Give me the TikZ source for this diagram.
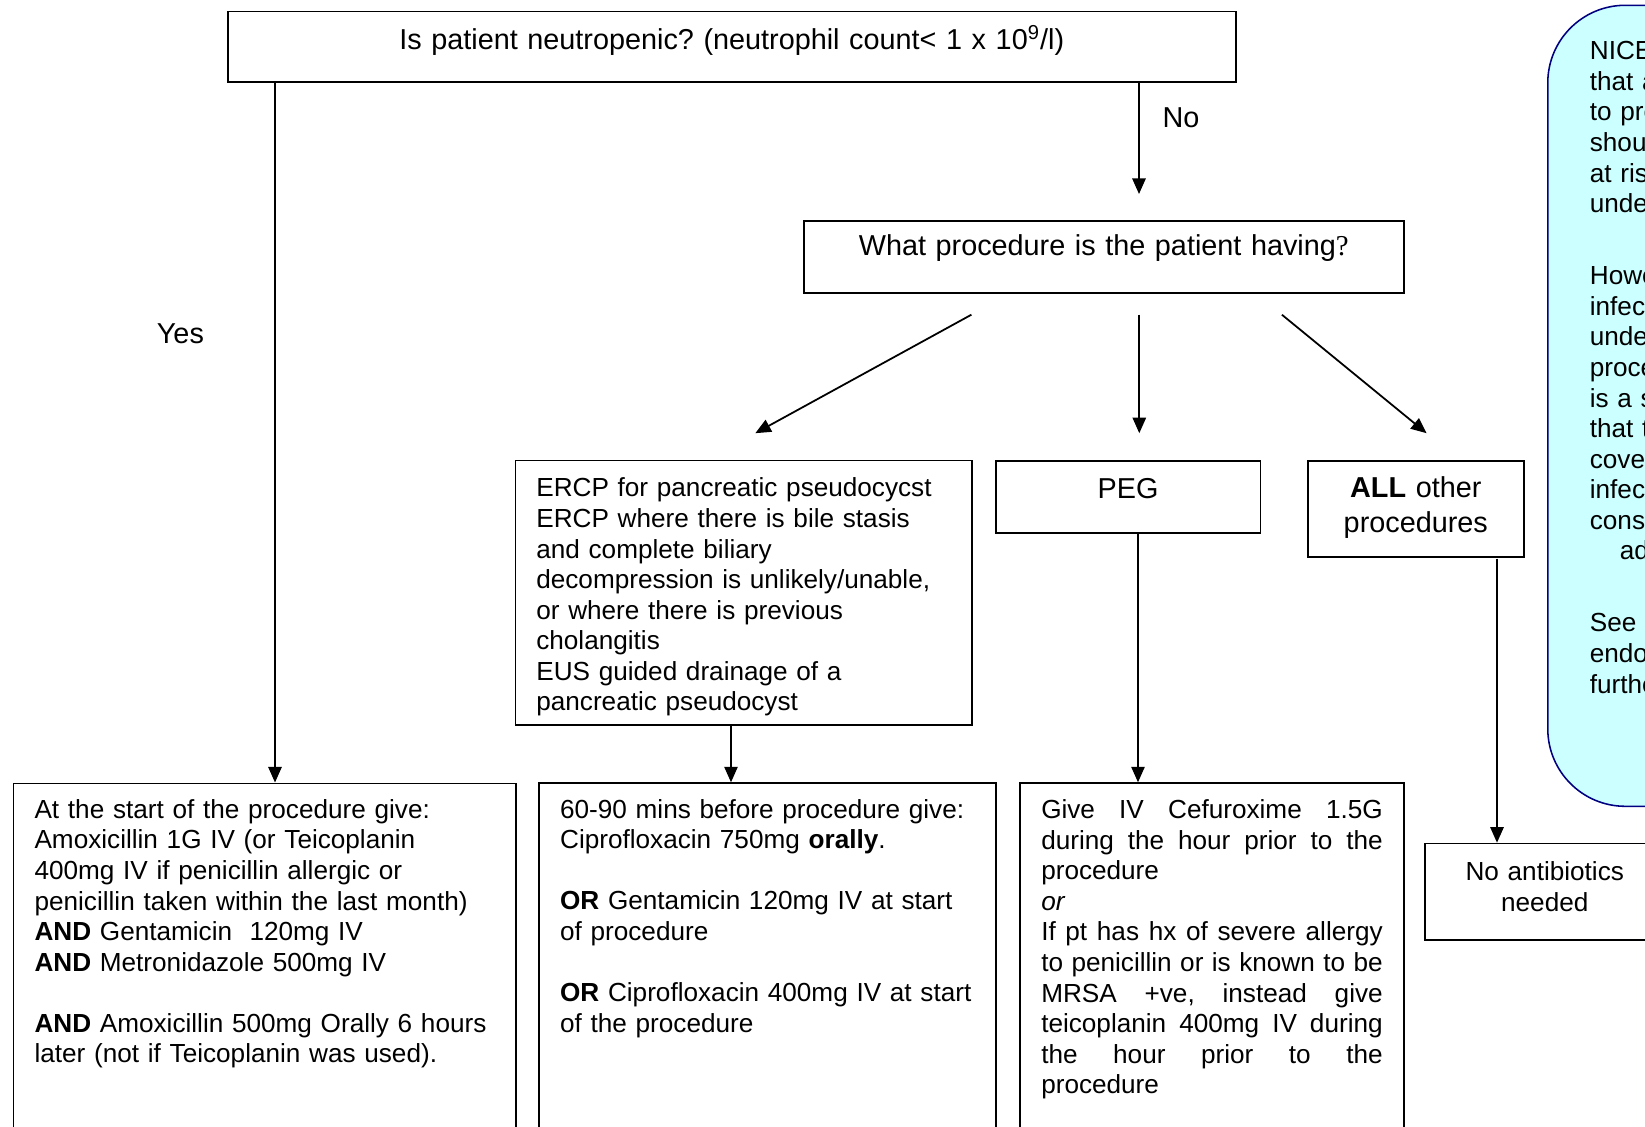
\documentclass[tikz,border=0pt]{standalone}
\usepackage{fontspec}
\setmainfont{Liberation Sans}
\newfontfamily\serifq{Liberation Serif}
\usetikzlibrary{arrows.meta}
\definecolor{NoteFill}{RGB}{204,255,255}
\definecolor{NoteLine}{RGB}{0,0,128}
\newcommand{\JustLine}[1]{\leavevmode\hbox to 154.1pt{#1}}
\frenchspacing

\begin{document}
\begin{tikzpicture}[x=0.4513pt,y=-0.4513pt]
	\tikzstyle{Body} = [font=\fontsize{11.8}{13.8}\selectfont]
	\tikzstyle{Big} = [font=\fontsize{13}{15.8}\selectfont]
	\tikzstyle{Box} = [draw, line width=0.7pt, anchor=north west, inner xsep=0pt, inner ysep=0pt]
	\tikzstyle{Arrow} = [-{Triangle[length=7pt,width=6pt]}, line width=0.8pt]
	\useasboundingbox (0,0) rectangle (1645,1127);

	\node[Box, Big, text width=454.9pt, align=center, text height=17.1pt, text depth=14.7pt] (neut) at (227,10.5)
		{Is patient neutropenic? (neutrophil count< 1 x 10\textsuperscript{9}/l)};
	\node[Box, Big, text width=270.8pt, align=center, text height=15.5pt, text depth=17pt] (proc) at (803,220)
		{What procedure is the patient having{\serifq ?}};
	\node[Box, Body, inner xsep=9.5pt, text width=187pt, align=left, text height=16.5pt, text depth=102.9pt] (ercp) at (514.5,459.5)
		{ERCP for pancreatic pseudocycst\\
		ERCP where there is bile stasis\\
		and complete biliary\\
		decompression is unlikely/unable,\\
		or where there is previous\\
		cholangitis\\
		EUS guided drainage of a\\
		pancreatic pseudocyst};
	\node[Box, Big, text width=119.4pt, align=center, text height=16.8pt, text depth=15.7pt] (peg) at (995,460) {PEG};
	\node[Box, Big, text width=97.5pt, align=center, text height=16.6pt, text depth=26.7pt] (other) at (1307,460)
		{\textbf{ALL} other\\procedures};

	\node[Box, Body, inner xsep=9.6pt, text width=207.6pt, align=left, text height=15.8pt, text depth=145.5pt] (yesDose) at (12.5,782.5)
		{At the start of the procedure give:\\
		Amoxicillin 1G IV (or Teicoplanin\\
		400mg IV if penicillin allergic or\\
		penicillin taken within the last month)\\
		\textbf{AND} Gentamicin\ \ 120mg IV\\
		\textbf{AND} Metronidazole 500mg IV\\[13.8pt]
		\textbf{AND} Amoxicillin 500mg Orally 6 hours\\
		later (not if Teicoplanin was used).};
	\node[Box, Body, inner xsep=9.5pt, text width=187.3pt, align=left, text height=15.8pt, text depth=145.5pt] (ercpDose) at (538.3,782.3)
		{60-90 mins before procedure give:\\
		Ciprofloxacin 750mg \textbf{orally}.\\[13.8pt]
		\textbf{OR} Gentamicin 120mg IV at start\\
		of procedure\\[13.8pt]
		\textbf{OR} Ciprofloxacin 400mg IV at start\\
		of the procedure};
	\node[Box, Body, inner xsep=9.7pt, text width=154.1pt, align=left, text height=16pt, text depth=145.5pt] (pegDose) at (1019,782.3)
		{\JustLine{Give\hfill IV\hfill Cefuroxime\hfill 1.5G}\\
		\JustLine{during\hfill the\hfill hour\hfill prior\hfill to\hfill the}\\
		procedure\\
		\textit{or}\\
		\JustLine{If\hfill pt\hfill has\hfill hx\hfill of\hfill severe\hfill allergy}\\
		\JustLine{to\hfill penicillin\hfill or\hfill is\hfill known\hfill to\hfill be}\\
		\JustLine{MRSA\hfill +ve,\hfill instead\hfill give}\\
		\JustLine{teicoplanin\hfill 400mg\hfill IV\hfill during}\\
		\JustLine{the\hfill hour\hfill prior\hfill to\hfill the}\\
		procedure};
	\node[Box, Body, text width=108.3pt, align=center, text height=16.8pt, text depth=26.7pt] (noAbx) at (1424,842.7)
		{No antibiotics\\needed};

	\node[Box, Body, draw=NoteLine, fill=NoteFill, rounded corners=35pt, inner xsep=19pt, text width=100pt, align=left, text height=24.6pt, text depth=336.9pt] (nice) at (1547,4.5)
		{NICE\\ that a\\ to pre\\ shou\\ at ris\\ unde\\[18.7pt]
		Howe\\ infect\\ unde\\ proce\\ is a s\\ that t\\ cove\\ infect\\ cons\\ \hspace*{13.5pt}ad\\[18.7pt]
		See\\ endo\\ furthe};

	\node[Big] (yes) at (180.4,333.6) {Yes};
	\node[Big] (no) at (1181,117.5) {No};

	\coordinate (yesLine) at (275,0);
	\coordinate (noTip) at (1139,194);
	\coordinate (leftFrom) at (971.4,314.7);
	\coordinate (leftTo) at (755.3,433.2);
	\coordinate (midFrom) at (1139.3,314.7);
	\coordinate (midTo) at (1139.3,433.2);
	\coordinate (rightFrom) at (1281.9,314.7);
	\coordinate (rightTo) at (1426.6,433.2);
	\coordinate (ercpLine) at (731,0);
	\coordinate (pegLine) at (1138,0);
	\coordinate (otherLine) at (1497,558.5);

	\draw[Arrow] (neut.south -| yesLine) -- (yesDose.north -| yesLine);
	\draw[Arrow] (neut.south -| noTip) -- (noTip);
	\draw[Arrow] (leftFrom) -- (leftTo);
	\draw[Arrow] (midFrom) -- (midTo);
	\draw[Arrow] (rightFrom) -- (rightTo);
	\draw[Arrow] (ercp.south -| ercpLine) -- (ercpDose.north -| ercpLine);
	\draw[Arrow] (peg.south -| pegLine) -- (pegDose.north -| pegLine);
	\draw[Arrow] (otherLine) -- (noAbx.north -| otherLine);
\end{tikzpicture}
\end{document}
